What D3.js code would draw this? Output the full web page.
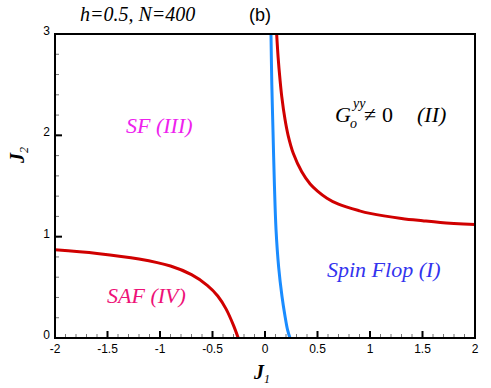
<!DOCTYPE html>
<html>
<head>
<meta charset="utf-8">
<script src="https://cdn.jsdelivr.net/npm/d3@7"></script>
<style>
  body { margin: 0; background: #fff; }
  svg { display: block; }
</style>
</head>
<body>
<div id="chart"></div>
<script>
// phase boundaries, [J1, J2]
var saf_sf = [[-2, 0.87], [-1.6, 0.835], [-1.2, 0.78], [-0.9, 0.71], [-0.7, 0.625],
    [-0.55, 0.52], [-0.45, 0.415], [-0.37, 0.285], [-0.3, 0.125], [-0.255, 0]];
var sf_ii = [[0.111, 3], [0.125, 2.77], [0.143, 2.55], [0.16, 2.38], [0.19, 2.16], [0.22, 2.0],
    [0.27, 1.82], [0.35, 1.64], [0.43, 1.52], [0.5, 1.45], [0.59, 1.38], [0.7, 1.32],
    [0.9, 1.255], [1.0, 1.23], [1.3, 1.18], [1.5, 1.157], [1.67, 1.14], [2, 1.12]];
var flop_line = [[0.238, 0], [0.215, 0.08], [0.19, 0.22], [0.162, 0.41], [0.13, 0.7],
    [0.105, 1.07], [0.09, 1.5], [0.076, 2.05], [0.065, 2.5], [0.057, 3]];

var xTicks = [-2, -1.5, -1, -0.5, 0, 0.5, 1, 1.5, 2];
var yTicks = [0, 1, 2, 3];

var width = 491, height = 388;
var margin = {left: 55, right: 16, top: 34, bottom: 50};

var svg = d3.select('#chart').append('svg')
    .attr('width', width)
    .attr('height', height);

var x = d3.scaleLinear().domain([-2, 2]).range([margin.left, width - margin.right]);
var y = d3.scaleLinear().domain([0, 3]).range([height - margin.bottom, margin.top]);

var serif = 'Liberation Serif, Times New Roman, serif';
var sans = 'Liberation Sans, Arial, sans-serif';

var g = svg.append('g');
g.append('defs').append('clipPath').attr('id', 'clip')
    .append('rect')
    .attr('x', x(-2)).attr('y', y(3))
    .attr('width', x(2) - x(-2)).attr('height', y(0) - y(3));

// curves
var line = d3.line()
    .x(function(d) { return x(d[0]); })
    .y(function(d) { return y(d[1]); })
    .curve(d3.curveCatmullRom.alpha(0.5));

var curves = g.append('g').attr('clip-path', 'url(#clip)');
curves.append('path').datum(saf_sf)
    .attr('d', line).attr('fill', 'none').attr('stroke', '#d00000').attr('stroke-width', 3);
curves.append('path').datum(sf_ii)
    .attr('d', line).attr('fill', 'none').attr('stroke', '#d00000').attr('stroke-width', 3);
curves.append('path').datum(flop_line)
    .attr('d', line).attr('fill', 'none').attr('stroke', '#1a8cff').attr('stroke-width', 3);

// inward ticks as small rects
var left = x(-2), bottom = y(0);
var xMinorVals = d3.range(-20, 21).map(function(v) { return v / 10; });
var yMinorVals = d3.range(0, 16).map(function(v) { return v / 5; });

var ticks = svg.append('g').attr('class', 'ticks');
ticks.selectAll('rect.xmi').data(xMinorVals).enter().append('rect').attr('class', 'xmi')
    .attr('x', function(d) { return x(d) - 0.5; }).attr('y', bottom - 4)
    .attr('width', 1).attr('height', 4).attr('fill', '#777');
ticks.selectAll('rect.ymi').data(yMinorVals).enter().append('rect').attr('class', 'ymi')
    .attr('x', left).attr('y', function(d) { return y(d) - 0.5; })
    .attr('width', 4).attr('height', 1).attr('fill', '#777');
ticks.selectAll('rect.xma').data(xTicks).enter().append('rect').attr('class', 'xma')
    .attr('x', function(d) { return x(d) - 1; }).attr('y', bottom - 7)
    .attr('width', 2).attr('height', 7).attr('fill', '#000');
ticks.selectAll('rect.yma').data(yTicks).enter().append('rect').attr('class', 'yma')
    .attr('x', left).attr('y', function(d) { return y(d) - 1; })
    .attr('width', 7).attr('height', 2).attr('fill', '#000');

g.selectAll('text.xlab').data(xTicks).join('text')
    .attr('x', function(d) { return x(d); }).attr('y', bottom + 15)
    .attr('text-anchor', 'middle').attr('font-family', sans).attr('font-size', 12)
    .text(function(d) { return String(d); });
g.selectAll('text.ylab').data(yTicks).join('text')
    .attr('x', left - 5).attr('y', function(d) { return y(d) + 1; })
    .attr('text-anchor', 'end').attr('font-family', sans).attr('font-size', 12)
    .text(function(d) { return String(d); });

// frame
svg.append('rect')
    .attr('x', x(-2)).attr('y', y(3))
    .attr('width', x(2) - x(-2)).attr('height', y(0) - y(3))
    .attr('fill', 'none').attr('stroke', '#000').attr('stroke-width', 2);

// axis titles
var xl = svg.append('text').attr('x', x(0) - 3).attr('y', 379)
    .attr('text-anchor', 'middle').attr('font-family', serif).attr('font-style', 'italic')
    .attr('font-weight', 'bold').attr('font-size', 20);
xl.append('tspan').text('J');
xl.append('tspan').attr('font-size', 12).attr('font-weight', 'normal').attr('dy', 4).text('1');

var yl = svg.append('text').attr('transform', 'translate(24,155) rotate(-90)')
    .attr('text-anchor', 'middle').attr('font-family', serif).attr('font-style', 'italic')
    .attr('font-weight', 'bold').attr('font-size', 20);
yl.append('tspan').text('J');
yl.append('tspan').attr('font-size', 12).attr('font-weight', 'normal').attr('dy', 4).text('2');

// title
svg.append('text').attr('x', 80).attr('y', 21)
    .attr('font-family', serif).attr('font-style', 'italic').attr('font-size', 20)
    .text('h=0.5, N=400');
svg.append('text').attr('x', 249).attr('y', 21)
    .attr('font-family', sans).attr('font-size', 18)
    .text('(b)');

// region labels
function label(px, py, txt, color, size, style) {
    return svg.append('text').attr('x', px).attr('y', py)
        .attr('font-family', serif).attr('font-style', style || 'italic').attr('font-size', size || 22)
        .attr('fill', color).text(txt);
}
label(126, 133, 'SF (III)', '#ee22ee');
label(107, 303, 'SAF (IV)', '#ee1177');
label(327, 277, 'Spin Flop (I)', '#3333ee');

label(335, 122, 'G', '#000');
label(350, 128, 'o', '#000', 14);
label(353, 108, 'yy', '#000', 14);
label(364, 122, '\u2260', '#000', 22, 'normal');
label(382, 122, '0', '#000', 22, 'normal');
label(417, 122, '(II)', '#000');
</script>
</body>
</html>
